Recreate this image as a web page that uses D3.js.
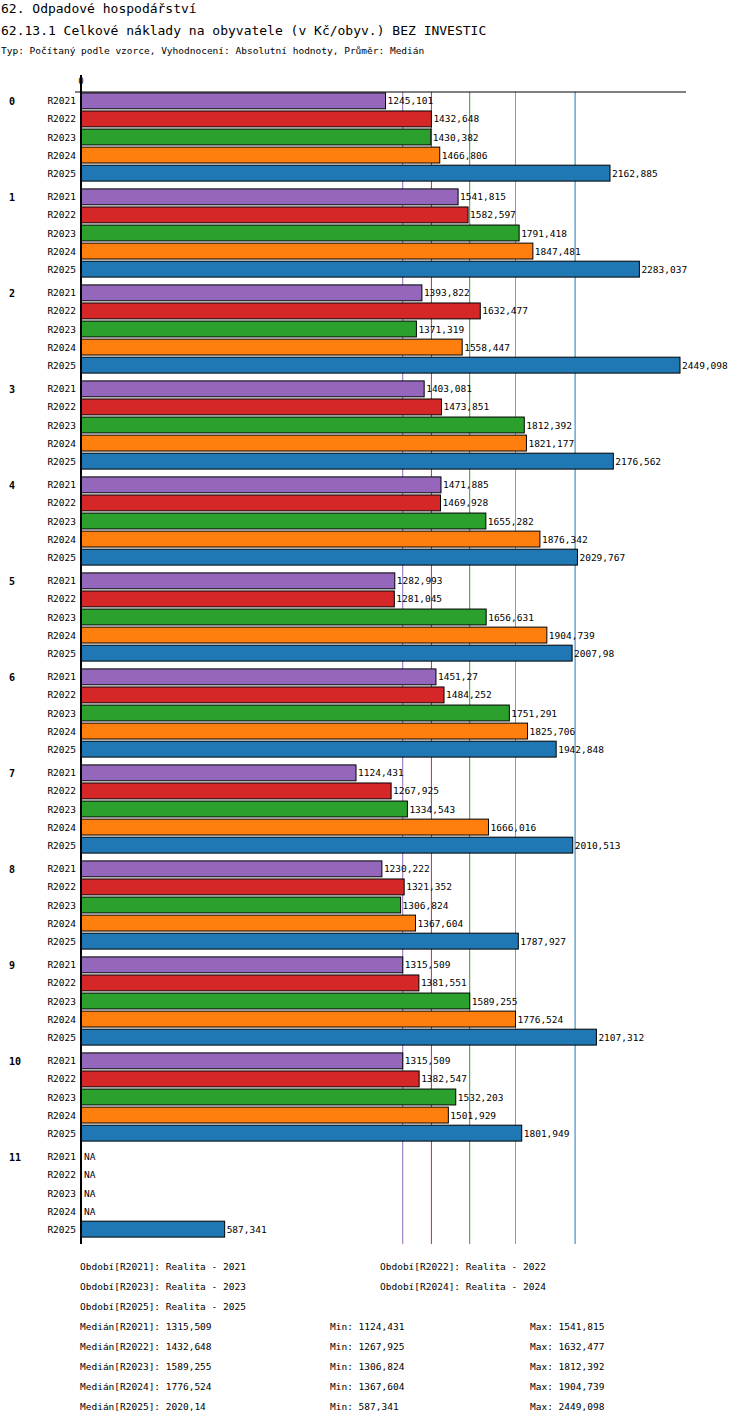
<!DOCTYPE html>
<html><head><meta charset="utf-8">
<script src="https://cdn.jsdelivr.net/npm/d3@7"></script>
<style>body{margin:0;background:#fff}</style></head><body>
<script>
const categories=["0","1","2","3","4","5","6","7","8","9","10","11"];
const series=["R2021","R2022","R2023","R2024","R2025"];
const colors=["#9467bd","#d62728","#2ca02c","#ff7f0e","#1f77b4"];
const R2021=[1245.101,1541.815,1393.822,1403.081,1471.885,1282.993,1451.27,1124.431,1230.222,1315.509,1315.509,null];
const R2022=[1432.648,1582.597,1632.477,1473.851,1469.928,1281.045,1484.252,1267.925,1321.352,1381.551,1382.547,null];
const R2023=[1430.382,1791.418,1371.319,1812.392,1655.282,1656.631,1751.291,1334.543,1306.824,1589.255,1532.203,null];
const R2024=[1466.806,1847.481,1558.447,1821.177,1876.342,1904.739,1825.706,1666.016,1367.604,1776.524,1501.929,null];
const R2025=[2162.885,2283.037,2449.098,2176.562,2029.767,2007.98,1942.848,2010.513,1787.927,2107.312,1801.949,587.341];
const medians=[1315.509,1432.648,1589.255,1776.524,2020.14];
const mins=[1124.431,1267.925,1306.824,1367.604,587.341];
const maxs=[1541.815,1632.477,1812.392,1904.739,2449.098];
const periods=["Realita - 2021","Realita - 2022","Realita - 2023","Realita - 2024","Realita - 2025"];
const vals=[R2021,R2022,R2023,R2024,R2025];
const fmt=v=>String(v).replace(".",",");
const W=750,H=1424,F="DejaVu Sans Mono, monospace";
const svg=d3.select("body").append("svg").attr("width",W).attr("height",H).style("font-family",F);
svg.append("text").attr("x",1).attr("y",13).attr("font-size",13).text("62. Odpadové hospodářství");
svg.append("text").attr("x",1).attr("y",35).attr("font-size",13).text("62.13.1 Celkové náklady na obyvatele (v Kč/obyv.) BEZ INVESTIC");
svg.append("text").attr("x",1).attr("y",54).attr("font-size",9.5).text("Typ: Počítaný podle vzorce, Vyhodnocení: Absolutní hodnoty, Průměr: Medián");
const x=d3.scaleLinear().domain([0,2449.098]).range([81,680]);
const gy=d3.scaleBand().domain(categories).range([92,92+96*12]);
const by=d3.scaleBand().domain(series).range([0,90]).paddingInner(0.12).paddingOuter(0.05);
// median lines
medians.forEach((m,i)=>svg.append("line").attr("x1",x(m)).attr("x2",x(m)).attr("y1",92).attr("y2",1244).attr("stroke",colors[i]).attr("stroke-width",1));
categories.forEach((c,ci)=>{
  const g=svg.append("g").attr("transform",`translate(0,${gy(c)})`);
  g.append("text").attr("x",9).attr("y",by("R2021")+by.bandwidth()/2+4).attr("font-size",10).attr("font-weight","bold").text(c);
  series.forEach((s,si)=>{
    const v=vals[si][ci], yy=by(s);
    g.append("text").attr("x",76).attr("y",yy+by.bandwidth()/2+3.5).attr("text-anchor","end").attr("font-size",9.5).text(s);
    if(v==null){g.append("text").attr("x",84).attr("y",yy+by.bandwidth()/2+3.5).attr("font-size",9.5).text("NA");return;}
    g.append("rect").attr("x",x(0)).attr("y",yy).attr("width",x(v)-x(0)).attr("height",by.bandwidth()).attr("fill",colors[si]).attr("stroke","#000").attr("stroke-width",1);
    g.append("text").attr("x",x(v)+2).attr("y",yy+by.bandwidth()/2+3.5).attr("font-size",9.5).text(fmt(v));
  });
});
svg.append("line").attr("x1",75).attr("x2",686).attr("y1",92).attr("y2",92).attr("stroke","#000");
svg.append("line").attr("x1",81).attr("x2",81).attr("y1",75).attr("y2",1244).attr("stroke","#000").attr("stroke-width",2);
svg.append("text").attr("x",x(0)).attr("y",84).attr("text-anchor","middle").attr("font-size",9).text("0");
// legend
const lf=9.5;
series.forEach((s,i)=>{
  const col=i%2, row=Math.floor(i/2);
  svg.append("text").attr("x",col?380:80).attr("y",1270+row*20).attr("font-size",lf).text(`Období[${s}]: ${periods[i]}`);
});
series.forEach((s,i)=>{
  const y=1330+i*20;
  svg.append("text").attr("x",80).attr("y",y).attr("font-size",lf).text(`Medián[${s}]: ${fmt(medians[i])}`);
  svg.append("text").attr("x",330).attr("y",y).attr("font-size",lf).text(`Min: ${fmt(mins[i])}`);
  svg.append("text").attr("x",530).attr("y",y).attr("font-size",lf).text(`Max: ${fmt(maxs[i])}`);
});
</script></body></html>
